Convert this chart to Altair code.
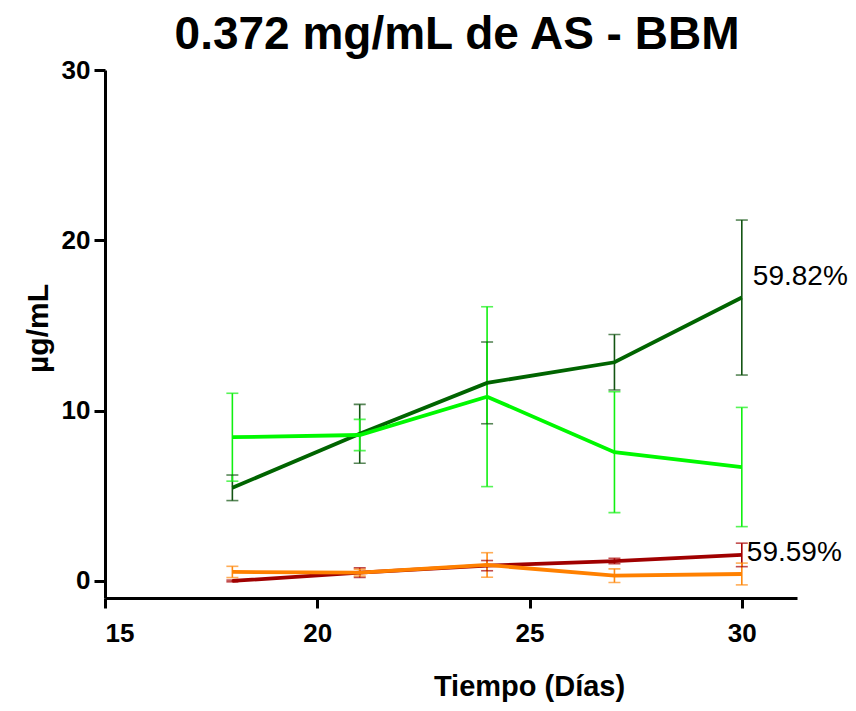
import altair as alt
import pandas as pd

days = [18, 21, 24, 27, 30]

series_names = ["Verde oscuro", "Verde claro", "Rojo", "Naranja"]
series_colors = ["#006400", "#00f800", "#a00000", "#ff8000"]
error_colors = ["#135413", "#10f010", "#a80000", "#ff8a10"]

dark_green = [5.47, 8.64, 11.63, 12.84, 16.64]
dark_green_err = [0.75, 1.73, 2.40, 1.63, 4.55]
light_green = [8.44, 8.57, 10.82, 7.56, 6.69]
light_green_err = [2.58, 0.92, 5.28, 3.55, 3.50]
dark_red = [0.00, 0.49, 0.90, 1.17, 1.53]
dark_red_err = [0.05, 0.28, 0.30, 0.16, 0.69]
orange = [0.53, 0.49, 0.94, 0.31, 0.41]
orange_err = [0.33, 0.20, 0.72, 0.40, 0.64]

ann_text = ["59.82%", "59.59%"]
ann_x = [30, 30]
ann_y = [17.82, 1.67]

x_ticks = [15, 20, 25, 30]
y_ticks = [0, 10, 20, 30]

rows = []
for name, vals, errs in zip(series_names,
                            [dark_green, light_green, dark_red, orange],
                            [dark_green_err, light_green_err, dark_red_err, orange_err]):
    for d, v, e in zip(days, vals, errs):
        rows.append({"series": name, "day": d, "value": v, "lo": v - e, "hi": v + e})
df = pd.DataFrame(rows)
ann = pd.DataFrame({"text": ann_text, "day": ann_x, "value": ann_y})

FONT = "Liberation Sans, Arial, sans-serif"

xscale = alt.Scale(domain=[15, 31.3], nice=False, zero=False)
yscale = alt.Scale(domain=[-1, 30], nice=False, zero=False)

x_axis = alt.Axis(values=x_ticks, title="Tiempo (Días)", format="d",
                  titleX=424, titleY=88, titleBaseline="middle", titleAlign="center",
                  titleFont=FONT, titleFontSize=29, titleFontWeight="bold",
                  labelFont=FONT, labelFontSize=26, labelFontWeight="bold",
                  labelPadding=12, tickSize=10)
y_axis = alt.Axis(values=y_ticks, title="µg/mL", format="d",
                  titleX=-67, titleY=258, titleAngle=-90, titleBaseline="middle",
                  titleAlign="center",
                  titleFont=FONT, titleFontSize=30, titleFontWeight="bold",
                  labelFont=FONT, labelFontSize=26, labelFontWeight="bold",
                  labelPadding=4, tickSize=11)

err_color = alt.Color("series:N", scale=alt.Scale(domain=series_names, range=error_colors), legend=None)
line_color = alt.Color("series:N", scale=alt.Scale(domain=series_names, range=series_colors), legend=None)

base = alt.Chart(df)

rules = base.mark_rule(strokeWidth=1.6).encode(
    x=alt.X("day:Q", scale=xscale, axis=x_axis),
    y=alt.Y("lo:Q", scale=yscale, axis=y_axis),
    y2="hi:Q",
    color=err_color,
)
cap_lo = base.mark_tick(orient="horizontal", size=12, thickness=1.6).encode(
    x=alt.X("day:Q", scale=xscale),
    y=alt.Y("lo:Q", scale=yscale),
    color=err_color,
)
cap_hi = base.mark_tick(orient="horizontal", size=12, thickness=1.6).encode(
    x=alt.X("day:Q", scale=xscale),
    y=alt.Y("hi:Q", scale=yscale),
    color=err_color,
)
errors = alt.layer(rules, cap_lo, cap_hi)

lines = base.mark_line(strokeWidth=3.8).encode(
    x=alt.X("day:Q", scale=xscale),
    y=alt.Y("value:Q", scale=yscale),
    color=line_color,
    order=alt.Order("day:Q"),
)

t1 = alt.Chart(ann.iloc[[0]]).mark_text(align="left", baseline="middle", dx=11,
                                        font=FONT, fontSize=28,
                                        color="black").encode(
    x=alt.X("day:Q", scale=xscale), y=alt.Y("value:Q", scale=yscale), text="text:N")
t2 = alt.Chart(ann.iloc[[1]]).mark_text(align="left", baseline="middle", dx=5,
                                        font=FONT, fontSize=28,
                                        color="black").encode(
    x=alt.X("day:Q", scale=xscale), y=alt.Y("value:Q", scale=yscale), text="text:N")

chart = alt.layer(errors, lines, t1, t2).resolve_scale(color="independent").properties(
    width=692, height=528,
    title=alt.TitleParams("0.372 mg/mL de AS - BBM", font=FONT,
                          fontSize=46, fontWeight="bold", anchor="middle",
                          dx=6, offset=-2, color="black"),
    autosize=alt.AutoSizeParams(type="none"),
    padding={"left": 97, "top": 62, "right": 51, "bottom": 104},
).configure_view(stroke=None).configure_axis(
    grid=False, domainColor="black", domainWidth=3, tickColor="black", tickWidth=3,
    labelColor="black", titleColor="black",
)

chart.save("out.html", embed_options={"renderer": "svg", "actions": False})
